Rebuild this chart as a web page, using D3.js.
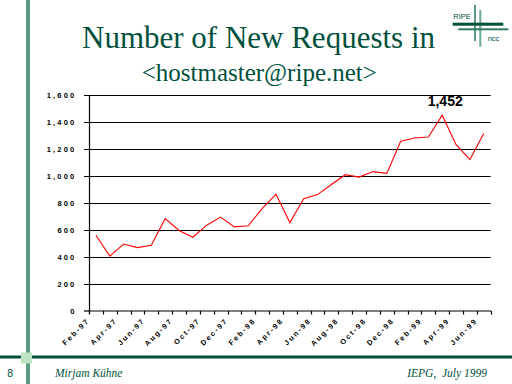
<!DOCTYPE html>
<html><head><meta charset="utf-8">
<script src="https://cdn.jsdelivr.net/npm/d3@7"></script>
<style>html,body{margin:0;padding:0;background:#fff;}svg{display:block;}
.serif{font-family:"Liberation Serif","Times New Roman","DejaVu Serif",serif;}
.sans{font-family:"Liberation Sans",Arial,"DejaVu Sans",sans-serif;}
</style>
</head><body>
<script>
const months = ["Feb-97","Mar-97","Apr-97","May-97","Jun-97","Jul-97","Aug-97","Sep-97","Oct-97","Nov-97","Dec-97","Jan-98",
"Feb-98","Mar-98","Apr-98","May-98","Jun-98","Jul-98","Aug-98","Sep-98","Oct-98","Nov-98","Dec-98",
"Jan-99","Feb-99","Mar-99","Apr-99","May-99","Jun-99"];
const requests = [560,405,495,468,485,683,595,545,635,695,622,630,758,865,655,832,862,937,1010,992,1033,1020,1258,1283,1290,1452,1233,1122,1316];
const yTicks = [0,200,400,600,800,1000,1200,1400,1600];
const xLabels = ["Feb-97","Apr-97","Jun-97","Aug-97","Oct-97","Dec-97","Feb-98","Apr-98","Jun-98","Aug-98","Oct-98","Dec-98","Feb-99","Apr-99","Jun-99"];
const title = "Number of New Requests in";
const subtitle = "<hostmaster@ripe.net>";
const peakLabel = "1,452";

const W=512,H=384;
const green="#00503e";
const svg=d3.select("body").append("svg").attr("width",W).attr("height",H);

// slide decoration
svg.append("rect").attr("x",26).attr("y",0).attr("width",4).attr("height",H).attr("fill","#5a9a82");
svg.append("rect").attr("x",0).attr("y",355.5).attr("width",W).attr("height",3).attr("fill","#004d40");
svg.append("rect").attr("x",21).attr("y",352.5).attr("width",11).attr("height",11).attr("fill","#bde3c5");

// logo
const lg=svg.append("g");
lg.append("rect").attr("x",474).attr("y",5).attr("width",2).attr("height",36).attr("fill","#5a9a82");
lg.append("rect").attr("x",479.3).attr("y",10).attr("width",2).attr("height",36.7).attr("fill","#6aaa90");
lg.append("rect").attr("x",452.7).attr("y",22.7).attr("width",50.6).attr("height",3).attr("fill","#00503e");
lg.append("rect").attr("x",458.3).attr("y",28.3).attr("width",50).attr("height",2).attr("fill","#2f7a62");
lg.append("text").attr("class","sans").attr("x",453.3).attr("y",18.5).attr("font-size",7.5).attr("fill",green).text("RIPE");
lg.append("text").attr("class","sans").attr("x",487.7).attr("y",41).attr("font-size",7.5).attr("fill",green).text("ncc");

// titles
svg.append("text").attr("class","serif").attr("x",82).attr("y",48.3).attr("font-size",31).attr("fill",green).text(title);
svg.append("text").attr("class","serif").attr("x",141.7).attr("y",81).attr("font-size",25).attr("fill",green).text(subtitle);

// footer
svg.append("text").attr("class","sans").attr("x",7.3).attr("y",377).attr("font-size",10.5).attr("fill",green).text("8");
svg.append("text").attr("class","serif").attr("x",55).attr("y",377).attr("font-style","italic").attr("font-size",11.5).attr("fill",green).text("Mirjam Kühne");
svg.append("text").attr("class","serif").attr("x",487).attr("y",377).attr("text-anchor","end").attr("font-style","italic").attr("font-size",11.5).attr("fill",green).style("white-space","pre").text("IEPG,  July 1999");

// chart
const x=d3.scaleBand().domain(months).range([89,490.7]).padding(0);
const y=d3.scaleLinear().domain([0,1600]).range([310.6,95.3]);

const g=svg.append("g");
// gridlines
g.selectAll("line.grid").data(yTicks.slice(1)).join("line")
  .attr("x1",84).attr("x2",490.7)
  .attr("y1",d=>Math.round(y(d))+0.5).attr("y2",d=>Math.round(y(d))+0.5)
  .attr("stroke","#000").attr("stroke-width",1.2);
// y axis
g.append("line").attr("x1",89.5).attr("x2",89.5).attr("y1",95).attr("y2",314).attr("stroke","#000").attr("stroke-width",1.2);
g.append("line").attr("x1",84).attr("x2",84+5).attr("y1",311).attr("y2",311).attr("stroke","#000").attr("stroke-width",1.2);
// x axis
g.append("line").attr("x1",89).attr("x2",491).attr("y1",311).attr("y2",311).attr("stroke","#000").attr("stroke-width",1.2);
const bounds=months.map(m=>x(m)).concat([x.range()[1]]);
g.selectAll("line.xt").data(bounds).join("line")
  .attr("x1",d=>Math.round(d)+0.5).attr("x2",d=>Math.round(d)+0.5)
  .attr("y1",311).attr("y2",314.5).attr("stroke","#000").attr("stroke-width",1.2);

// y labels
g.selectAll("text.yl").data(yTicks).join("text").attr("class","sans")
  .attr("x",76.5).attr("y",d=>y(d)+3)
  .attr("text-anchor","end").attr("font-weight","bold")
  .attr("font-size",7.5).attr("letter-spacing",2.2).attr("fill","#000")
  .text(d=>d3.format(",")(d));

// x labels
g.selectAll("text.xl").data(xLabels).join("text").attr("class","sans")
  .attr("transform",d=>`translate(${x(d)+1},${321}) rotate(-45)`)
  .attr("text-anchor","end").attr("font-weight","bold")
  .attr("font-size",7.3).attr("letter-spacing",1.9).attr("fill","#000")
  .text(d=>d);

// line
const line=d3.line().x((d,i)=>x(months[i])+x.bandwidth()/2).y(d=>y(d));
g.append("path").datum(requests).attr("d",line).attr("fill","none").attr("stroke","#ff0000").attr("stroke-width",1.1);

// peak label
const pi=requests.indexOf(d3.max(requests));
g.append("text").attr("class","sans").attr("x",x(months[pi])+x.bandwidth()/2+3).attr("y",105.7).attr("text-anchor","middle")
  .attr("font-weight","bold").attr("font-size",14).attr("fill","#000").text(peakLabel);
</script>
</body></html>
